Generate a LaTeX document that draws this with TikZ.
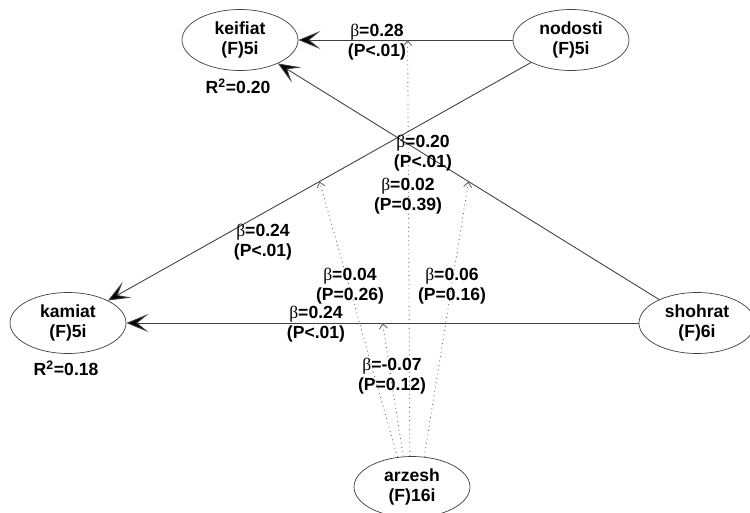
\documentclass[tikz,border=0pt]{standalone}
\usepackage{fontspec}
\setmainfont{Liberation Sans}
\newfontfamily\betafont{Liberation Serif}
\newcommand{\bsym}{{\betafont\mdseries β}}
\usetikzlibrary{arrows.meta, shapes.geometric}

\begin{document}
\begin{tikzpicture}[
  x=0.02cm, y=-0.02cm,
  font=\bfseries\fontsize{10}{11.4}\selectfont,
  latent/.style={draw=black!75, ellipse, fill=white, align=center, inner sep=0pt, minimum width=2.32cm, minimum height=1.22cm},
  coef/.style={align=center, inner sep=1pt},
  effect/.style={-{Stealth[length=4.4mm, width=3.6mm, inset=2.2mm, fill=black]}, draw=black!75, line width=0.5pt},
  moder/.style={-{Straight Barb[length=1mm, width=1.6mm]}, draw=black!60, dotted, line width=0.5pt}
]
\useasboundingbox (0,0) rectangle (750,513);

\node[latent] (keifiat) at (240,40) {keifiat\\(F)5i};
\node[latent] (nodosti) at (571,40) {nodosti\\(F)5i};
\node[latent] (kamiat) at (68,323) {kamiat\\(F)5i};
\node[latent] (shohrat) at (697,323) {shohrat\\(F)6i};
\node[latent] (arzesh) at (412,487) {arzesh\\(F)16i};

\node (r2keifiat) at (238,86) {R\textsuperscript{2}=0.20};
\node (r2kamiat) at (66,368) {R\textsuperscript{2}=0.18};

\draw[effect] (nodosti) -- coordinate[pos=0.49] (mnk) (keifiat);
\draw[effect] (shohrat) -- coordinate[pos=0.5] (msk) (keifiat);
\draw[effect] (nodosti) -- coordinate[pos=0.5] (mnm) (kamiat);
\draw[effect] (shohrat) -- coordinate[pos=0.5] (msm) (kamiat);

\draw[moder] (arzesh.116) -- (mnm);
\draw[moder] (arzesh.106) -- (msm);
\draw[moder] (arzesh.94) -- (mnk);
\draw[moder] (arzesh.68) -- (msk);

\node[coef] (bnk) at (377,42) {\bsym=0.28\\(P<.01)};
\node[coef] (bsk) at (423,153) {\bsym=0.20\\(P<.01)};
\node[coef] (bmnk) at (408,196) {\bsym=0.02\\(P=0.39)};
\node[coef] (bnm) at (263,242) {\bsym=0.24\\(P<.01)};
\node[coef] (bmnm) at (350,286) {\bsym=0.04\\(P=0.26)};
\node[coef] (bmsk) at (452,286) {\bsym=0.06\\(P=0.16)};
\node[coef] (bsm) at (316,324) {\bsym=0.24\\(P<.01)};
\node[coef] (bmsm) at (392,376) {\bsym=-0.07\\(P=0.12)};

\end{tikzpicture}
\end{document}
